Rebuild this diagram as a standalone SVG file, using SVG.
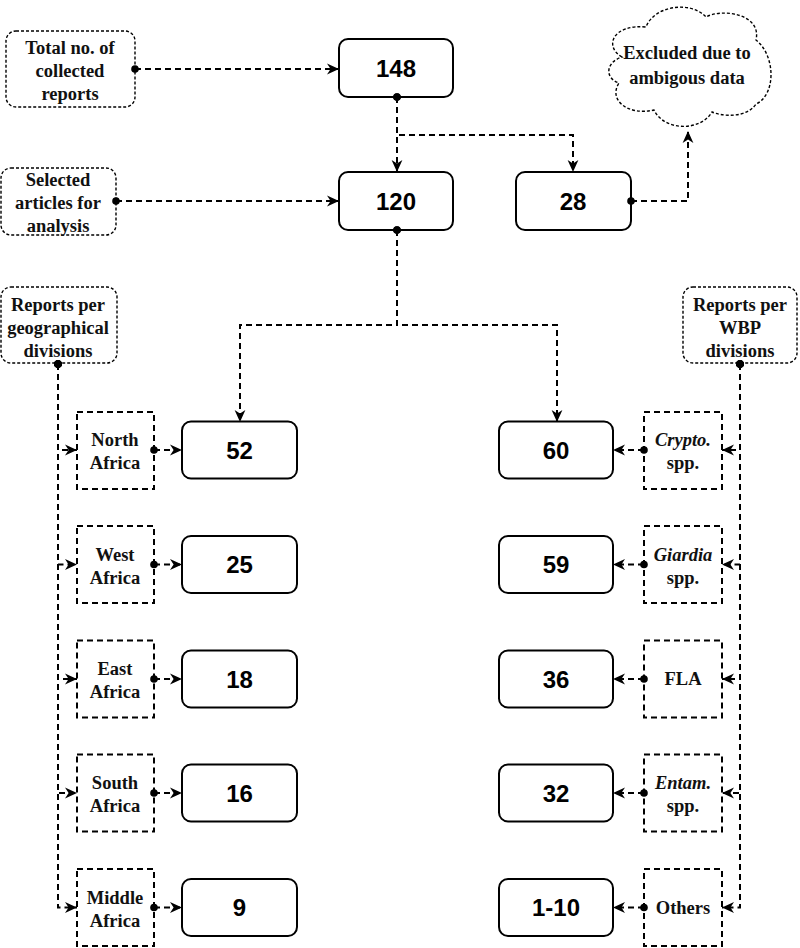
<svg xmlns="http://www.w3.org/2000/svg" width="800" height="948" viewBox="0 0 800 948">
<defs>
<style>
.num{fill:#fff;stroke:#000;stroke-width:2}
.numt{font-family:"Liberation Sans",Arial,sans-serif;font-weight:bold;font-size:24px;text-anchor:middle;fill:#000}
.lab{font-family:"Liberation Serif","Times New Roman",serif;font-weight:bold;font-size:18.5px;text-anchor:middle;fill:#111}
.dot{fill:#fff;stroke:#000;stroke-width:1.4;stroke-dasharray:3 2}
.dbox{fill:#fff;stroke:#000;stroke-width:2;stroke-dasharray:6 4}
.edge{fill:none;stroke:#000;stroke-width:2;stroke-dasharray:6 4;marker-end:url(#arr);marker-start:url(#dotm)}
.it{font-style:italic}
</style>
<marker id="arr" markerUnits="userSpaceOnUse" markerWidth="12" markerHeight="12" viewBox="0 0 10 10" refX="10" refY="5" orient="auto">
<path d="M0,0.5 L10,5 L0,9.5 L3,5 Z" fill="#000"/>
</marker>
<marker id="dotm" markerUnits="userSpaceOnUse" markerWidth="10" markerHeight="10" viewBox="0 0 10 10" refX="5" refY="5" orient="auto">
<circle cx="5" cy="5" r="3.8" fill="#000"/>
</marker>
</defs>

<g id="total">
<rect class="dot" x="6" y="31" width="129" height="76" rx="10"/>
<text class="lab" x="70" y="54">Total no. of</text>
<text class="lab" x="70" y="77">collected</text>
<text class="lab" x="70" y="100">reports</text>
</g>
<g id="selected">
<rect class="dot" x="1" y="168" width="115" height="67" rx="10"/>
<text class="lab" x="58" y="186">Selected</text>
<text class="lab" x="58" y="209">articles for</text>
<text class="lab" x="58" y="232">analysis</text>
</g>
<g id="excluded">
<path class="dot" d="M622,57 C604,47 612,24 646,27 C654,6 690,0 706,17 C722,8 762,14 756,40 C776,56 776,95 756,104 C746,119 721,116 712,112 C700,132 664,131 654,110 C628,116 608,100 619,83 C604,78 606,62 622,57 Z"/>
<text class="lab" x="687" y="59">Excluded due to</text>
<text class="lab" x="687" y="84">ambigous data</text>
</g>
<g id="geo">
<rect class="dot" x="1" y="287" width="116" height="76" rx="10"/>
<text class="lab" x="58" y="311">Reports per</text>
<text class="lab" x="58" y="334">geographical</text>
<text class="lab" x="58" y="357">divisions</text>
</g>
<g id="wbp">
<rect class="dot" x="683" y="287" width="114" height="76" rx="10"/>
<text class="lab" x="740" y="311">Reports per</text>
<text class="lab" x="740" y="334">WBP</text>
<text class="lab" x="740" y="357">divisions</text>
</g>

<g id="n148"><rect class="num" x="339" y="39" width="114" height="58" rx="9"/><text class="numt" x="396" y="77">148</text></g>
<g id="n120"><rect class="num" x="339" y="172" width="114" height="58" rx="9"/><text class="numt" x="396" y="210">120</text></g>
<g id="n28"><rect class="num" x="516" y="172" width="115" height="58" rx="9"/><text class="numt" x="573" y="210">28</text></g>

<g id="north"><rect class="dbox" x="77" y="412" width="77" height="77"/><text class="lab" x="115" y="446">North</text><text class="lab" x="115" y="469">Africa</text></g>
<g id="west"><rect class="dbox" x="77" y="526" width="77" height="77"/><text class="lab" x="115" y="560.5">West</text><text class="lab" x="115" y="583.5">Africa</text></g>
<g id="east"><rect class="dbox" x="77" y="640.5" width="77" height="77"/><text class="lab" x="115" y="675">East</text><text class="lab" x="115" y="698">Africa</text></g>
<g id="south"><rect class="dbox" x="77" y="754.5" width="77" height="77"/><text class="lab" x="115" y="789">South</text><text class="lab" x="115" y="812">Africa</text></g>
<g id="middle"><rect class="dbox" x="77" y="869" width="77" height="77"/><text class="lab" x="115" y="903.5">Middle</text><text class="lab" x="115" y="926.5">Africa</text></g>

<g id="n52"><rect class="num" x="182" y="421.5" width="115" height="57" rx="9"/><text class="numt" x="239.5" y="458.5">52</text></g>
<g id="n25"><rect class="num" x="182" y="536" width="115" height="57" rx="9"/><text class="numt" x="239.5" y="573">25</text></g>
<g id="n18"><rect class="num" x="182" y="650.5" width="115" height="57" rx="9"/><text class="numt" x="239.5" y="687.5">18</text></g>
<g id="n16"><rect class="num" x="182" y="764.5" width="115" height="57" rx="9"/><text class="numt" x="239.5" y="801.5">16</text></g>
<g id="n9"><rect class="num" x="182" y="879" width="115" height="57" rx="9"/><text class="numt" x="239.5" y="916">9</text></g>

<g id="n60"><rect class="num" x="499" y="421.5" width="114" height="57" rx="9"/><text class="numt" x="556" y="458.5">60</text></g>
<g id="n59"><rect class="num" x="499" y="536" width="114" height="57" rx="9"/><text class="numt" x="556" y="573">59</text></g>
<g id="n36"><rect class="num" x="499" y="650.5" width="114" height="57" rx="9"/><text class="numt" x="556" y="687.5">36</text></g>
<g id="n32"><rect class="num" x="499" y="764.5" width="114" height="57" rx="9"/><text class="numt" x="556" y="801.5">32</text></g>
<g id="n110"><rect class="num" x="499" y="879" width="114" height="57" rx="9"/><text class="numt" x="556" y="916">1-10</text></g>

<g id="crypto"><rect class="dbox" x="644" y="412" width="78" height="77"/><text class="lab it" x="683" y="446">Crypto.</text><text class="lab" x="683" y="469">spp.</text></g>
<g id="giardia"><rect class="dbox" x="644" y="526" width="78" height="77"/><text class="lab it" x="683" y="560.5">Giardia</text><text class="lab" x="683" y="583.5">spp.</text></g>
<g id="fla"><rect class="dbox" x="644" y="640.5" width="78" height="77"/><text class="lab" x="683" y="685">FLA</text></g>
<g id="entam"><rect class="dbox" x="644" y="754.5" width="78" height="77"/><text class="lab it" x="683" y="789">Entam.</text><text class="lab" x="683" y="812">spp.</text></g>
<g id="others"><rect class="dbox" x="644" y="869" width="78" height="77"/><text class="lab" x="683" y="914">Others</text></g>

<g id="connectors">
<path class="edge" d="M135,69 H339"/>
<path class="edge" d="M116,201 H339"/>
<path class="edge" d="M397,97 V172"/>
<path class="edge" d="M397,97 V135 H573 V172"/>
<path class="edge" d="M631,201 H688 V131"/>
<path class="edge" d="M397,230 V325 H240 V422"/>
<path class="edge" d="M397,230 V325 H557 V422"/>
<path class="edge" d="M58,364 V450 H77"/>
<path class="edge" d="M58,364 V564.5 H77"/>
<path class="edge" d="M58,364 V679 H77"/>
<path class="edge" d="M58,364 V793 H77"/>
<path class="edge" d="M58,364 V907.5 H77"/>
<path class="edge" d="M740,364 V450 H722"/>
<path class="edge" d="M740,364 V564.5 H722"/>
<path class="edge" d="M740,364 V679 H722"/>
<path class="edge" d="M740,364 V793 H722"/>
<path class="edge" d="M740,364 V907.5 H722"/>
<path class="edge" d="M154,450 H182"/>
<path class="edge" d="M154,564.5 H182"/>
<path class="edge" d="M154,679 H182"/>
<path class="edge" d="M154,793 H182"/>
<path class="edge" d="M154,907.5 H182"/>
<path class="edge" d="M644,450 H613"/>
<path class="edge" d="M644,564.5 H613"/>
<path class="edge" d="M644,679 H613"/>
<path class="edge" d="M644,793 H613"/>
<path class="edge" d="M644,907.5 H613"/>
</g>
</svg>
